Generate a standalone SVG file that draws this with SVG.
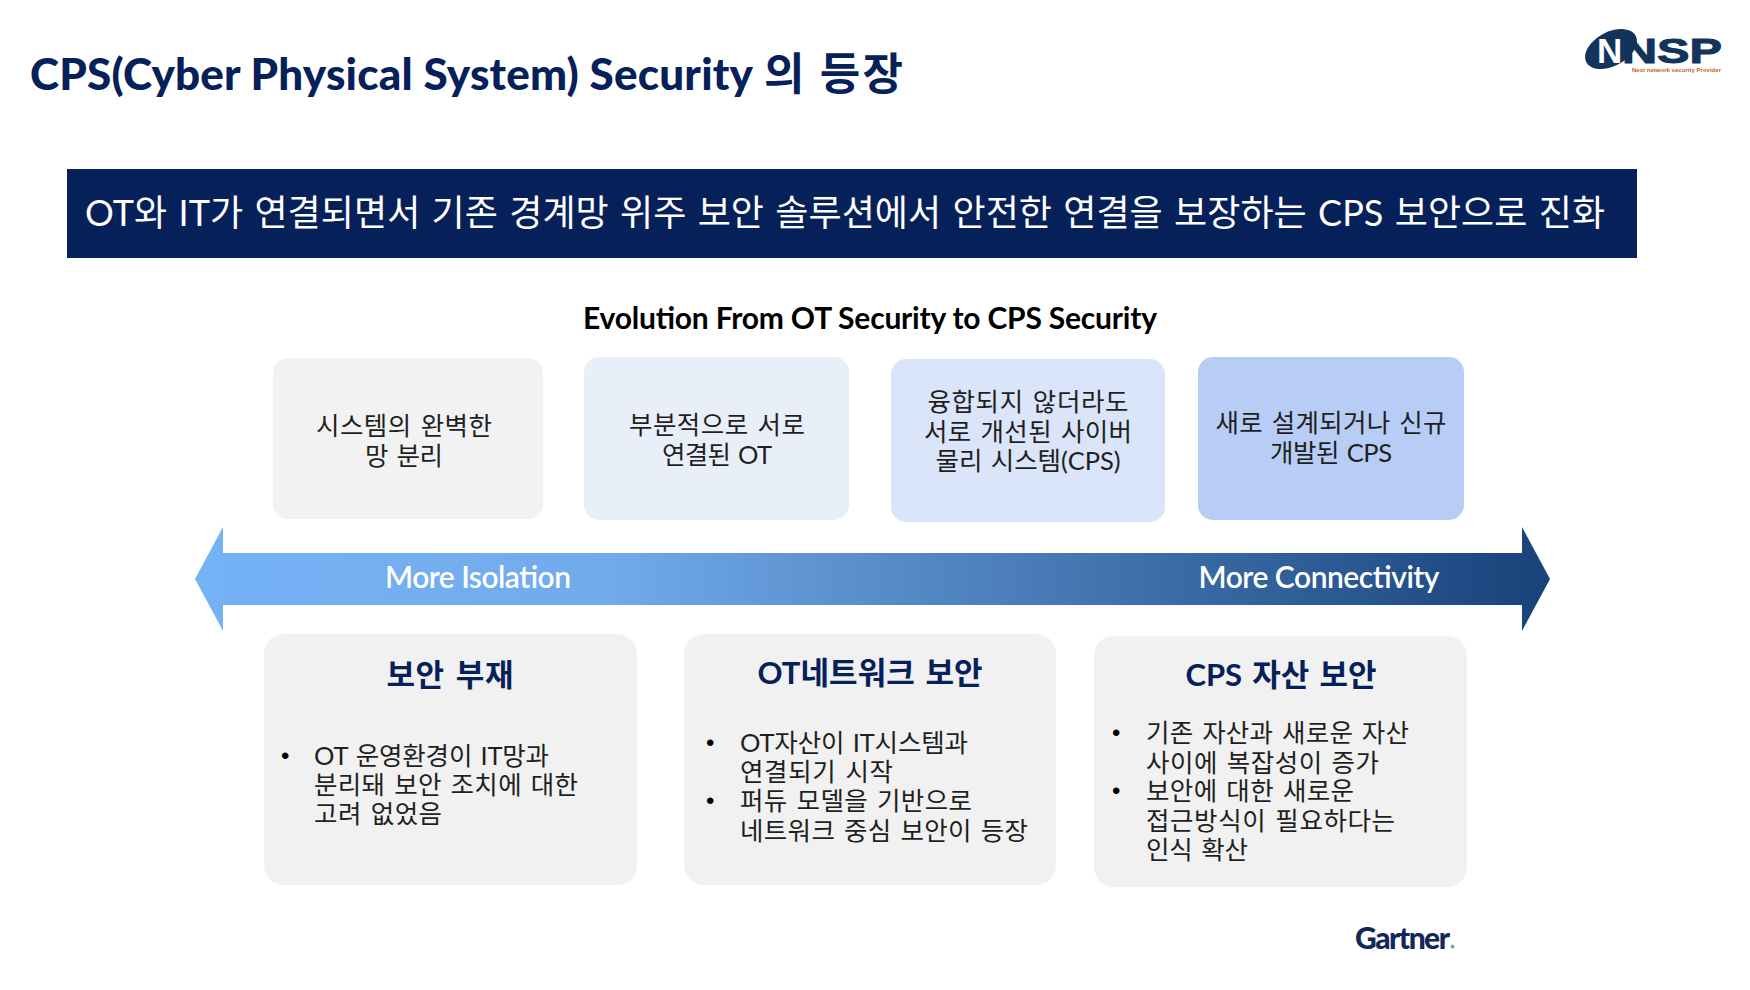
<svg xmlns="http://www.w3.org/2000/svg" width="1750" height="990" viewBox="0 0 1750 990">
<style>
text{font-family:Lato,"Noto Sans CJK KR",sans-serif}
.top{font-size:25.5px;fill:#1f1f1f;text-anchor:middle;word-spacing:2px}
.head{font-size:31px;font-weight:700;fill:#062059;text-anchor:middle;word-spacing:3px}
.body{font-size:25.5px;fill:#1f1f1f;word-spacing:2px}
.bul{font-size:24px;fill:#000;font-family:"Liberation Sans",sans-serif}
.pan{fill:#f1f1f1}
.arw{font-size:30px;font-weight:600;fill:#fff;text-anchor:middle}
</style>
<defs><linearGradient id="g" x1="0" x2="1" y1="0" y2="0"><stop offset="0" stop-color="#75b2f6"/><stop offset=".3" stop-color="#72abeb"/><stop offset="1" stop-color="#17427a"/></linearGradient></defs>
<rect width="1750" height="990" fill="#fff"/>
<g id="title"><text x="30" y="90" font-size="44" font-weight="900" fill="#062059" textLength="723">CPS(Cyber Physical System) Security</text><text x="764" y="90" font-size="44" font-weight="700" fill="#062059" textLength="139">의 등장</text></g>
<g id="logo">
<ellipse cx="1611" cy="49" rx="28" ry="17" fill="#12345a" transform="rotate(-28 1611 49)"/>
<text x="1597" y="63" font-size="35" font-weight="900" fill="#fff" style="font-family:'Liberation Sans'">N</text>
<text x="1622" y="63" font-size="35" font-weight="900" fill="#12345a" stroke="#12345a" stroke-width="1" style="font-family:'Liberation Sans'" textLength="100" lengthAdjust="spacingAndGlyphs">NSP</text>
<text x="1632" y="72" font-size="6" font-weight="700" fill="#c9602c" style="font-family:'Liberation Sans'" textLength="89">Next network security Provider</text>
</g>
<g id="banner"><rect x="67" y="169" width="1570" height="89" fill="#062059"/>
<text x="85" y="226" font-size="36" fill="#fff" word-spacing="2" textLength="1520">OT와 IT가 연결되면서 기존 경계망 위주 보안 솔루션에서 안전한 연결을 보장하는 CPS 보안으로 진화</text></g>
<g id="subtitle"><text x="870" y="329" font-size="30" font-weight="700" fill="#000" text-anchor="middle" textLength="574">Evolution From OT Security to CPS Security</text></g>
<g id="stage1"><rect x="273" y="358" width="270" height="161" rx="15" fill="#f2f2f2"/>
<text class="top" x="404" y="435" textLength="176">시스템의 완벽한</text><text class="top" x="404" y="465" textLength="78">망 분리</text></g>
<g id="stage2"><rect x="584" y="357" width="265" height="163" rx="15" fill="#e9eff9"/>
<text class="top" x="717" y="434" textLength="176">부분적으로 서로</text><text class="top" x="717" y="464" textLength="110">연결된 OT</text></g>
<g id="stage3"><rect x="891" y="359" width="274" height="163" rx="15" fill="#dae5f9"/>
<text class="top" x="1028" y="411" textLength="201">융합되지 않더라도</text><text class="top" x="1028" y="441" textLength="208">서로 개선된 사이버</text><text class="top" x="1028" y="470" textLength="185">물리 시스템(CPS)</text></g>
<g id="stage4"><rect x="1198" y="357" width="266" height="163" rx="15" fill="#b7cdf5"/>
<text class="top" x="1331" y="432" textLength="231">새로 설계되거나 신규</text><text class="top" x="1331" y="462" textLength="122">개발된 CPS</text></g>
<g id="connectors"><path d="M195 579L223 527V553H1522V527L1550 579L1522 631V605H223V631Z" fill="url(#g)"/></g>
<g id="arrow-labels"><text class="arw" x="478" y="588" textLength="186">More Isolation</text>
<text class="arw" x="1319" y="588" textLength="241">More Connectivity</text></g>
<g id="panel1"><rect class="pan" x="264" y="634" width="373" height="251" rx="20"/>
<text class="head" x="450" y="686" textLength="127">보안 부재</text>
<text class="bul" x="281" y="764">•</text>
<text class="body" x="314" y="765" textLength="235">OT 운영환경이 IT망과</text><text class="body" x="314" y="794" textLength="264">분리돼 보안 조치에 대한</text><text class="body" x="314" y="823" textLength="128">고려 없었음</text></g>
<g id="panel2"><rect class="pan" x="684" y="634" width="372" height="251" rx="20"/>
<text class="head" x="870" y="684" textLength="225">OT네트워크 보안</text>
<text class="bul" x="706" y="751">•</text><text class="body" x="740" y="752" textLength="228">OT자산이 IT시스템과</text><text class="body" x="740" y="781" textLength="153">연결되기 시작</text>
<text class="bul" x="706" y="809">•</text><text class="body" x="740" y="810" textLength="232">퍼듀 모델을 기반으로</text><text class="body" x="740" y="840" textLength="288">네트워크 중심 보안이 등장</text></g>
<g id="panel3"><rect class="pan" x="1094" y="636" width="373" height="251" rx="20"/>
<text class="head" x="1281" y="686" textLength="191">CPS 자산 보안</text>
<text class="bul" x="1112" y="741">•</text><text class="body" x="1146" y="742" textLength="263">기존 자산과 새로운 자산</text><text class="body" x="1146" y="772" textLength="233">사이에 복잡성이 증가</text>
<text class="bul" x="1112" y="799">•</text><text class="body" x="1146" y="800" textLength="208">보안에 대한 새로운</text><text class="body" x="1146" y="830" textLength="249">접근방식이 필요하다는</text><text class="body" x="1146" y="859" textLength="102">인식 확산</text></g>
<g id="gartner"><text x="1355" y="949" font-size="30" font-weight="900" fill="#12285a" textLength="95">Gartner</text><circle cx="1452.500" cy="946.500" r="2" fill="#8a9bbf"/></g>
</svg>
